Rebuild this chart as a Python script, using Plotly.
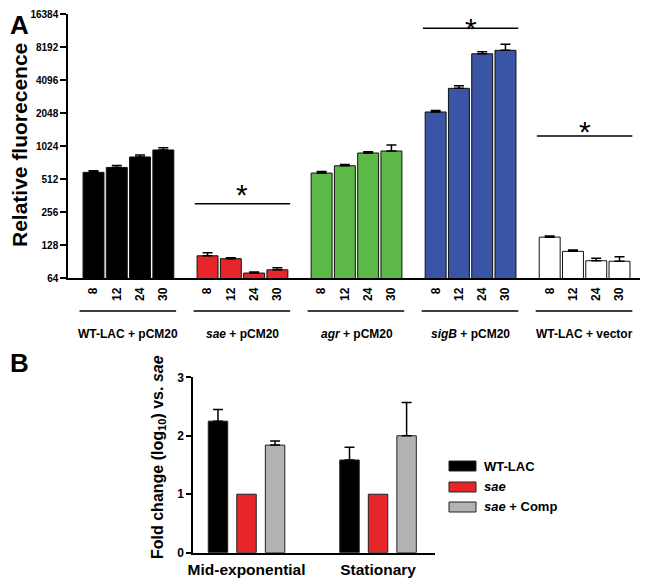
"""
Two-panel bar figure: reporter fluorescence (A) and fold change vs. sae (B).
"""

import math
import plotly.graph_objects as go

FONT = 'Liberation Sans, Arial, sans-serif'

# Panel A data
groups = ['WT-LAC + pCM20', '<i>sae</i> + pCM20', '<i>agr</i> + pCM20',
          '<i>sigB</i> + pCM20', 'WT-LAC + vector']
times = ['8', '12', '24', '30']
wt_lac = [589, 653, 813, 942]
wt_lac_err = [20, 28, 35, 45]
sae = [102, 96, 71, 76]
sae_err = [7, 2, 1.5, 3.5]
agr = [580, 676, 884, 922]
agr_err = [20, 20, 25, 124]
sigb = [2093, 3437, 7100, 7640]
sigb_err = [60, 190, 300, 1020]
vector = [151, 112, 92, 91]
vector_err = [4, 3, 5, 9]
y_ticks_a = [64, 128, 256, 512, 1024, 2048, 4096, 8192, 16384]

# Panel B data
phases = ['Mid-exponential', 'Stationary']
strains = ['WT-LAC', '<i>sae</i>', '<i>sae</i> + Comp']
b_wt = [2.25, 1.585]
b_wt_err = [0.2, 0.22]
b_sae = [1.0, 1.0]
b_sae_err = [0, 0]
b_comp = [1.84, 2.0]
b_comp_err = [0.07, 0.57]

COLORS_A = ['#000000', '#e8262a', '#5db947', '#3a55a5', '#ffffff']
COLORS_B = ['#000000', '#e8262a', '#b3b3b3']

GROUP_STEP = 4.9
# the page body has an 8px margin, so the figure is a bit smaller than the window
OFF = 8
W = 650 - OFF
H = 578 - OFF


def py(px):
    """page pixel row -> paper y"""
    return 1 - (px - OFF) / H


def px_x(px):
    """page pixel column -> paper x"""
    return (px - OFF) / W


fig = go.Figure()

series_a = [(wt_lac, wt_lac_err), (sae, sae_err), (agr, agr_err),
            (sigb, sigb_err), (vector, vector_err)]

tickvals_a = []
ticktext_a = []
for g, (vals, errs) in enumerate(series_a):
    xs = [g * GROUP_STEP + i for i in range(len(times))]
    tickvals_a += xs
    ticktext_a += times
    fig.add_trace(go.Bar(
        x=xs, y=vals, width=0.9,
        marker=dict(color=COLORS_A[g], line=dict(color='#111111', width=1)),
        error_y=dict(type='data', array=errs, arrayminus=[0] * len(errs),
                     symmetric=False, color='black', thickness=1.5, width=5),
        xaxis='x', yaxis='y', showlegend=False, hoverinfo='x+y'
    ))

offsets_b = [-0.217, 0, 0.217]
series_b = [(b_wt, b_wt_err), (b_sae, b_sae_err), (b_comp, b_comp_err)]
for k, (vals, errs) in enumerate(series_b):
    xs = [p + offsets_b[k] for p in range(len(phases))]
    fig.add_trace(go.Bar(
        x=xs, y=vals, width=0.148, name=strains[k],
        marker=dict(color=COLORS_B[k], line=dict(color='#222222', width=1)),
        error_y=dict(type='data', array=errs, arrayminus=[0] * len(errs),
                     symmetric=False, color='black', thickness=1.5, width=5,
                     visible=any(e > 0 for e in errs)),
        xaxis='x2', yaxis='y2', showlegend=False
    ))

shapes = []
annotations = []

# underlines + group labels below panel A
for g, name in enumerate(groups):
    x0 = g * GROUP_STEP - 0.6
    x1 = g * GROUP_STEP + 3.55
    shapes.append(dict(type='line', xref='x', yref='paper', x0=x0, x1=x1,
                       y0=py(311), y1=py(311), line=dict(color='black', width=1.5)))
    annotations.append(dict(xref='x', yref='paper', x=g * GROUP_STEP + 1.5, y=py(334),
                            text=name, showarrow=False, xanchor='center', yanchor='middle',
                            font=dict(size=12, family=FONT, weight='bold', color='black')))

# significance bars: (group index, line row px, star row px)
for g, row, star in [(1, 203.7, 187), (3, 28.3, 12), (4, 136, 124)]:
    x0 = g * GROUP_STEP - 0.55
    x1 = g * GROUP_STEP + 3.55
    shapes.append(dict(type='line', xref='x', yref='paper', x0=x0, x1=x1,
                       y0=py(row), y1=py(row), line=dict(color='black', width=1.5)))
    # keep the star's text box inside the page
    star_y = min(py(star + 7), 1 - 20 / H)
    annotations.append(dict(xref='x', yref='paper', x=g * GROUP_STEP + 1.5, y=star_y,
                            text='*', showarrow=False, xanchor='center', yanchor='middle',
                            font=dict(size=30, family=FONT, color='black')))

# axis titles and panel letters
annotations += [
    dict(xref='paper', yref='paper', x=px_x(20), y=py(145), text='Relative fluorecence',
         textangle=-90, showarrow=False, xanchor='center', yanchor='middle',
         font=dict(size=21, family=FONT, weight='bold', color='black')),
    dict(xref='paper', yref='paper', x=px_x(158), y=py(457),
         text='Fold change (log<sub>10</sub>) vs. <i>sae</i>',
         textangle=-90, showarrow=False, xanchor='center', yanchor='middle',
         font=dict(size=16, family=FONT, weight='bold', color='black')),
    dict(xref='paper', yref='paper', x=0, y=1, xanchor='left', yanchor='top',
         text='A', showarrow=False,
         font=dict(size=26, family=FONT, weight='bold', color='black')),
    dict(xref='paper', yref='paper', x=0, y=py(346), xanchor='left', yanchor='top',
         text='B', showarrow=False,
         font=dict(size=26, family=FONT, weight='bold', color='black')),
]

# legend for panel B
for k, name in enumerate(strains):
    yc = [466, 487, 507][k]
    shapes.append(dict(type='rect', xref='paper', yref='paper',
                       x0=px_x(449), x1=px_x(476), y0=py(yc + 5), y1=py(yc - 5),
                       fillcolor=COLORS_B[k], line=dict(color='#222222', width=1)))
    annotations.append(dict(xref='paper', yref='paper', x=px_x(482), y=py(yc),
                            xanchor='left', yanchor='middle', text=name, showarrow=False,
                            font=dict(size=13, family=FONT, weight='bold', color='black')))

fig.update_layout(
    width=W, height=H, autosize=False,
    margin=dict(l=0, r=0, t=0, b=0, pad=0),
    paper_bgcolor='white', plot_bgcolor='white',
    barmode='overlay',
    font=dict(family=FONT, color='black'),
    shapes=shapes, annotations=annotations,
    xaxis=dict(domain=[px_x(68), px_x(640)], range=[-1.096, 23.48],
               tickvals=tickvals_a, ticktext=ticktext_a, tickangle=-90,
               ticks='', ticklabelstandoff=3, automargin=False,
               tickfont=dict(size=12, family=FONT, weight='bold'),
               showline=True, linecolor='black', linewidth=1.5,
               showgrid=False, zeroline=False, anchor='y'),
    yaxis=dict(domain=[py(278), py(14)], type='log',
               range=[math.log10(64), math.log10(16384)],
               tickvals=y_ticks_a, ticktext=[str(v) for v in y_ticks_a],
               ticks='outside', ticklen=6, tickwidth=1.5, tickcolor='black',
               automargin=False,
               tickfont=dict(size=10, family=FONT, weight='bold'),
               showline=True, linecolor='black', linewidth=1.5,
               showgrid=False, zeroline=False, anchor='x'),
    xaxis2=dict(domain=[px_x(193), px_x(435)], range=[-0.407, 1.433],
                tickvals=list(range(len(phases))), ticktext=phases,
                ticks='', ticklabelstandoff=2, automargin=False,
                tickfont=dict(size=15.5, family=FONT, weight='bold'),
                showline=True, linecolor='black', linewidth=1.5,
                showgrid=False, zeroline=False, anchor='y2'),
    yaxis2=dict(domain=[py(552.7), py(377.3)], range=[0, 3],
                tickvals=[0, 1, 2, 3],
                ticks='outside', ticklen=5, tickwidth=1.5, tickcolor='black',
                automargin=False,
                tickfont=dict(size=12, family=FONT, weight='bold'),
                showline=True, linecolor='black', linewidth=1.5,
                showgrid=False, zeroline=False, anchor='x2'),
)

fig.write_html('out.html')
